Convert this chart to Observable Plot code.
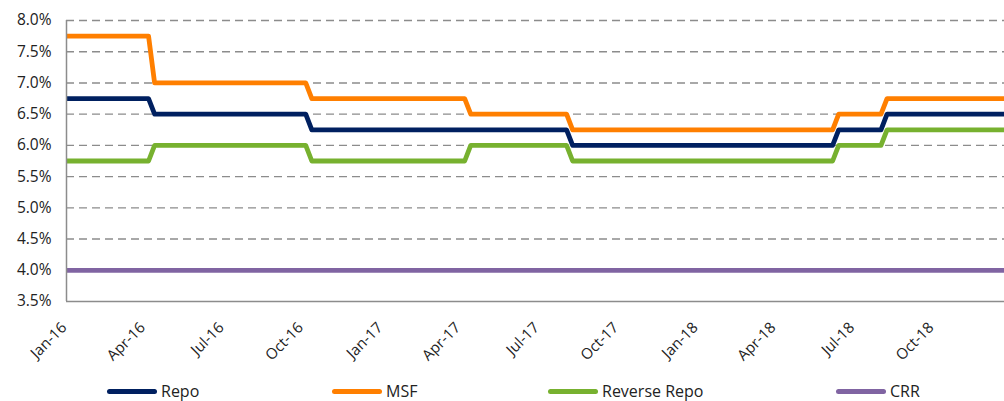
<!DOCTYPE html>
<html>
<head>
<meta charset="utf-8">
<script src="https://cdn.jsdelivr.net/npm/d3@7"></script>
<script src="https://cdn.jsdelivr.net/npm/@observablehq/plot@0.6"></script>
<style>
  html, body { margin: 0; padding: 0; background: #fff; }
  #wrap { width: 1004px; height: 401px; position: relative; overflow: hidden; font-family: "Open Sans", sans-serif; }
  #wrap svg { display: block; }
  #legend { position: relative; width: 1004px; height: 36px; }
  .item { position: absolute; top: 16px; height: 20px; line-height: 20px; display: flex; align-items: center; font-size: 16px; color: #222; white-space: nowrap; }
  .sw { width: 50px; height: 5px; border-radius: 3px; margin-right: 4px; }
</style>
</head>
<body>
<div id="wrap"></div>
<script>
// Policy rate regimes (in %), changing at the dates below
const seriesNames = ["Repo", "MSF", "Reverse Repo", "CRR"];
const seriesColors = ["#002060", "#FF7F00", "#77B12F", "#8064A2"];
const startDate = "2016-01-01";
const endDate = "2018-12-22";
const changeDates = ["2016-04-05", "2016-10-04", "2017-04-06", "2017-08-02", "2018-06-06", "2018-08-01"];
const repo        = [6.75, 6.50, 6.25, 6.25, 6.00, 6.25, 6.50];
const msf         = [7.75, 7.00, 6.75, 6.50, 6.25, 6.50, 6.75];
const reverseRepo = [5.75, 6.00, 5.75, 6.00, 5.75, 6.00, 6.25];
const crr         = [4.00, 4.00, 4.00, 4.00, 4.00, 4.00, 4.00];
const yTicks = [3.5, 4.0, 4.5, 5.0, 5.5, 6.0, 6.5, 7.0, 7.5, 8.0];
const xTickLabels = ["Jan-16","Apr-16","Jul-16","Oct-16","Jan-17","Apr-17","Jul-17","Oct-17","Jan-18","Apr-18","Jul-18","Oct-18"];
const lagDays = 7;

const parse = d3.utcParse("%Y-%m-%d");
const allSeries = [repo, msf, reverseRepo, crr];
const rows = [];
allSeries.forEach((vals, s) => {
  vals.forEach((v, i) => {
    const a = i === 0 ? parse(startDate) : d3.utcDay.offset(parse(changeDates[i - 1]), lagDays);
    const b = i === vals.length - 1 ? parse(endDate) : parse(changeDates[i]);
    rows.push({series: seriesNames[s], date: a, value: v});
    rows.push({series: seriesNames[s], date: b, value: v});
  });
});
const xTicks = xTickLabels.map(l => d3.utcParse("%b-%y")(l));

const chart = Plot.plot({
  width: 1004,
  height: 365,
  marginLeft: 66,
  marginRight: 0,
  marginTop: 20,
  marginBottom: 64,
  style: {fontFamily: "Open Sans, sans-serif", background: "#fff"},
  x: {type: "utc", domain: [parse(startDate), parse(endDate)], axis: null},
  y: {domain: [3.5, 8.0], axis: null},
  color: {domain: seriesNames, range: seriesColors},
  marks: [
    Plot.ruleY(yTicks.filter(t => t > 3.5), {stroke: "#8c8c8c", strokeWidth: 1.4, strokeDasharray: "8,5"}),
    Plot.lineY(rows, {x: "date", y: "value", z: "series", stroke: "series", strokeWidth: 4.8, strokeLinejoin: "round", strokeLinecap: "butt"}),
    Plot.ruleY([3.5], {stroke: "#8c8c8c", strokeWidth: 1.5}),
    Plot.ruleX([parse(startDate)], {stroke: "#8c8c8c", strokeWidth: 1.5}),
    Plot.text(yTicks, {y: d => d, text: d => d.toFixed(1) + "%", frameAnchor: "left", textAnchor: "end", dx: -15, fontSize: 15.5, fill: "#222"}),
    Plot.text(xTicks, {x: d => d, text: (d, i) => xTickLabels[i], frameAnchor: "bottom", textAnchor: "end", rotate: -45, dy: 27, dx: 1, fontSize: 15, fill: "#222"})
  ]
});
const wrap = document.getElementById("wrap");
wrap.appendChild(chart);

const legend = document.createElement("div");
legend.id = "legend";
const legendLeft = [107, 332, 548, 836];
seriesNames.forEach((name, i) => {
  const it = document.createElement("div");
  it.className = "item";
  it.style.left = legendLeft[i] + "px";
  it.innerHTML = `<span class="sw" style="background:${seriesColors[i]}"></span><span>${name}</span>`;
  legend.appendChild(it);
});
wrap.appendChild(legend);
</script>
</body>
</html>
